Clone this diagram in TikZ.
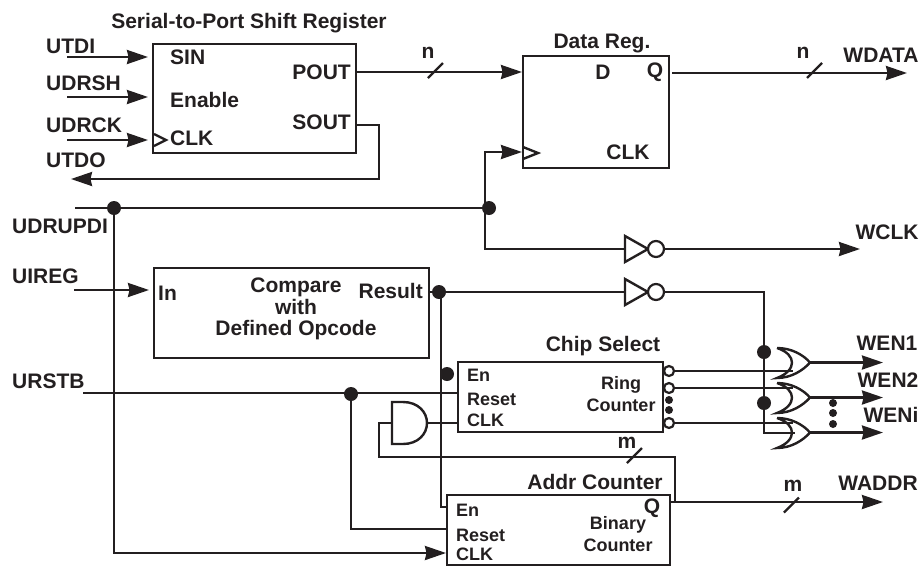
\documentclass[tikz,border=0pt]{standalone}
\usepackage{fontspec}
\setmainfont{Liberation Sans}
\usetikzlibrary{arrows.meta,calc}
\definecolor{inkc}{HTML}{231F20}
\tikzset{
  wire/.style={line width=2.4pt,inkc},
  ar/.style={wire,-{Stealth[length=21pt,width=14pt,inset=1.5pt]}},
  box/.style={draw=inkc,line width=2.6pt,inner sep=0pt,outer sep=0pt,fill=none},
  dot/.style={circle,fill=inkc,inner sep=0pt,minimum size=14pt},
  smalldot/.style={circle,fill=inkc,inner sep=0pt,minimum size=8pt},
  bubble/.style={circle,draw=inkc,line width=2.2pt,fill=white,inner sep=0pt,minimum size=10pt},
  lbl/.style={font=\fontsize{21}{21.5}\selectfont\bfseries,text=inkc,inner sep=0pt,align=center},
  sml/.style={font=\fontsize{18}{20}\selectfont\bfseries,text=inkc,inner sep=0pt,align=center}
}
\begin{document}
\begin{tikzpicture}[x=1pt,y=-1pt]
\useasboundingbox (0,0) rectangle (921,566);
% blocks
\node[box,minimum width=203pt,minimum height=109pt] (shiftreg) at (254.5,98.5) {};
\node[box,minimum width=146pt,minimum height=112pt] (datareg) at (596,112) {};
\node[box,minimum width=275pt,minimum height=90pt] (compare) at (291.5,313) {};
\node[box,minimum width=205pt,minimum height=70pt] (chipsel) at (560.5,397) {};
\node[box,minimum width=223pt,minimum height=70pt] (addrcnt) at (558.5,530) {};
% block titles
\node[lbl] (tshift) at (249,23) {Serial-to-Port Shift Register};
\node[lbl] (tdata) at (602,43) {Data Reg.};
\node[lbl] (tchip) at (603,346) {Chip Select};
\node[lbl] (taddr) at (595,482) {Addr Counter};
\node[lbl] (tcomp) at (296,309) {Compare\\with\\Defined Opcode};
% signals
\node[lbl,anchor=west] (utdil) at (46,46) {UTDI};
\node[lbl,anchor=west] (udrshl) at (46,83) {UDRSH};
\node[lbl,anchor=west] (udrckl) at (46,125) {UDRCK};
\node[lbl,anchor=west] (utdol) at (46,160) {UTDO};
\node[lbl,anchor=west] (udrupdil) at (12,226) {UDRUPDI};
\node[lbl,anchor=west] (uiregl) at (12,276) {UIREG};
\node[lbl,anchor=west] (urstbl) at (12,381) {URSTB};
\node[lbl] (wdatal) at (881,55) {WDATA};
\node[lbl] (wclkl) at (887,232) {WCLK};
\node[lbl] (wen1l) at (887,343) {WEN1};
\node[lbl] (wen2l) at (888,380) {WEN2};
\node[lbl] (wenil) at (891,415) {WENi};
\node[lbl] (waddrl) at (878,483) {WADDR};
\node[lbl] (wn1) at (428,53) {n};
\node[lbl] (wn2) at (803,53) {n};
\node[lbl] (wm1) at (627,443) {m};
\node[lbl] (wm2) at (793,486) {m};
% pins
\node[lbl,anchor=west] (psin) at (170,57) {SIN};
\node[lbl,anchor=west] (pen) at (170,99.5) {Enable};
\node[lbl,anchor=west] (pclk) at (170,138) {CLK};
\node[lbl,anchor=east] (ppout) at (351,72) {POUT};
\node[lbl,anchor=east] (psout) at (351,122) {SOUT};
\node[lbl] (dd) at (603,72) {D};
\node[lbl] (dq) at (655,72) {Q};
\node[lbl] (dclk) at (628,152) {CLK};
\node[lbl,anchor=west] (cin) at (158,293) {In};
\node[lbl,anchor=east] (cres) at (423,291) {Result};
\node[sml,anchor=west] (sen) at (467,375) {En};
\node[sml,anchor=west] (srst) at (467,399) {Reset};
\node[sml,anchor=west] (sclk) at (467,420) {CLK};
\node[sml] (sring) at (621,394) {Ring\\[2pt]Counter};
\node[sml,anchor=west] (aen) at (456,510) {En};
\node[sml,anchor=west] (arst) at (456,535) {Reset};
\node[sml,anchor=west] (aclk) at (456,554) {CLK};
\node[lbl] (aq) at (652,508) {Q};
\node[sml] (abin) at (618,534) {Binary\\[2pt]Counter};
% free ends
\coordinate (utdi) at (67,57);
\coordinate (udrsh) at (67,97);
\coordinate (udrck) at (67,140);
\coordinate (utdo) at (71,179);
\coordinate (udrupdi) at (75,208);
\coordinate (uireg) at (74,290);
\coordinate (urstb) at (83,393);
\coordinate (pout) at (356,72);
\coordinate (sout) at (356,125);
\coordinate (dqout) at (672,73);
\coordinate (wdata) at (907,73);
\coordinate (wclk) at (860,249);
\coordinate (waddr) at (883,502);
\coordinate (qout) at (670,502);
% junctions
\node[dot] (jupd) at (114,208) {};
\node[dot] (jclk) at (489,208) {};
\node[dot] (jres) at (439,292) {};
\node[dot] (jen) at (447,374) {};
\node[dot] (jrst) at (351,394) {};
\node[dot] (jora) at (764,352) {};
\node[dot] (jorb) at (764,403) {};
% inverters
\foreach \c/\n in {249/w,292/r}{
  \draw[wire] (625,\c-13) -- (648,\c) -- (625,\c+13) -- cycle;
  \node[bubble,minimum size=16pt] (inv\n) at (656,\c) {};
  \coordinate (inin\n) at (625,\c);
}
% or gates
\foreach \c/\n in {362.5/a,397.5/b,432.5/c}{
  \draw[wire] (777,\c-14.5) .. controls (791,\c-14.5) and (803,\c-8) .. (810,\c)
    .. controls (803,\c+8) and (791,\c+15.5) .. (777,\c+15.5)
    .. controls (797,\c+8) and (797,\c-8) .. (777,\c-14.5);
  \coordinate (or\n) at (810,\c);
}
\coordinate (wen1) at (883,362.5);
\coordinate (wen2) at (883,397.5);
\coordinate (weni) at (883,432.5);
\coordinate (orina) at (793,371);
\coordinate (orinb) at (793,388);
\coordinate (orinc) at (793,423);
\coordinate (orind) at (795,433);
% and gate
\draw[wire] (392,402) -- (403,402) .. controls (418,402) and (427,412) .. (427,423)
  .. controls (427,434) and (418,444) .. (403,444) -- (392,444) -- cycle;
\coordinate (andin) at (392,423);
\coordinate (andout) at (427,423);
% ring counter outputs
\node[bubble] (ringa) at (669,371) {};
\node[bubble] (ringb) at (669,388) {};
\node[bubble] (ringc) at (669,423) {};
\node[smalldot] (ringd) at (669,400) {};
\node[smalldot] (ringe) at (669,410) {};
\node[smalldot] (wena) at (833,403) {};
\node[smalldot] (wenb) at (833,413) {};
\node[smalldot] (wenc) at (833,424) {};
% clock marks
\draw[wire] (154,134) -- (166,140) -- (154,146);
\draw[wire] (523,147) -- (538,153) -- (523,159);
% bus marks
\foreach \x/\y in {435.5/70.5,814.5/70.5,634.5/455.5,791.5/505}
  \draw[wire] (\x+7.5,\y-7.5) -- (\x-7.5,\y+7.5);
% connectors
\draw[ar,shorten >=5pt] (utdi) -- (utdi -| shiftreg.west);
\draw[ar,shorten >=5pt] (udrsh) -- (udrsh -| shiftreg.west);
\draw[ar,shorten >=5pt] (udrck) -- (udrck -| shiftreg.west);
\draw[ar] (sout) -- ++(23,0) |- (utdo);
\draw[ar,shorten >=1pt] (pout) -- (pout -| datareg.west);
\draw[ar] (dqout) -- (wdata);
\draw[wire] (udrupdi) -- (jclk);
\draw[ar,shorten >=1pt] (jclk.center) ++(-4,0) |- (datareg.west |- 0,152);
\draw[wire] (jclk.center) ++(-4,0) |- (ininw);
\draw[ar] (invw) -- (wclk);
\draw[ar,shorten >=5pt] (uireg) -- (compare.west |- uireg);
\draw[wire] (compare.east |- jres) -- (jres);
\draw[wire] (jres) -- (ininr);
\draw[wire] (invr) -- (invr -| jora) |- (orind);
\draw[wire] (urstb) -- (urstb -| chipsel.west);
\draw[wire] (jrst) |- (addrcnt.west |- 0,529);
\draw[wire] (jres.center) ++(2,0) |- (addrcnt.west |- 0,507);
\draw[ar,shorten >=1pt] (jupd) |- (addrcnt.west |- 0,553);
\draw[wire] (andout) -- (chipsel.west |- andout);
\draw[wire] (andin) -- (379,423) |- (675,457) -- (675,502);
\draw[ar] (qout) -- (waddr);
\draw[wire] (ringa) -- (orina);
\draw[wire] (ringb) -- (orinb);
\draw[wire] (ringc) -- (orinc);
\draw[ar] (ora) -- (wen1);
\draw[ar] (orb) -- (wen2);
\draw[ar] (orc) -- (weni);
\end{tikzpicture}
\end{document}
